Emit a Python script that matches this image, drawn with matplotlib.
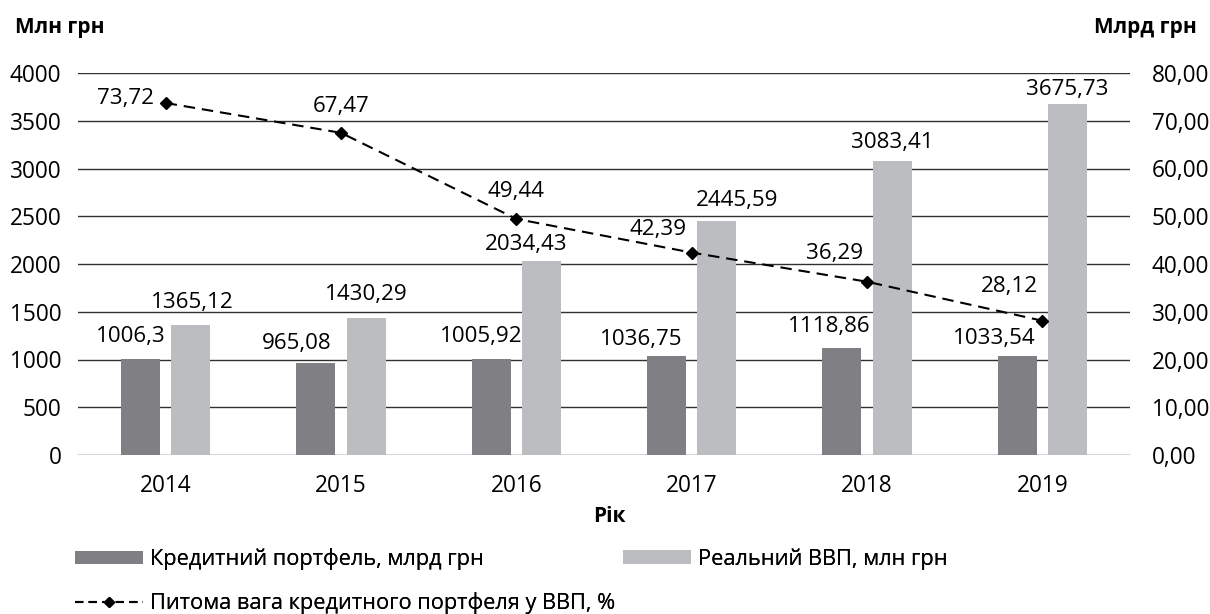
import numpy as np
import matplotlib as mpl
mpl.use('Agg')
import matplotlib.pyplot as plt
from matplotlib.lines import Line2D
from matplotlib.patches import Patch

years = ['2014', '2015', '2016', '2017', '2018', '2019']
credit = [1006.3, 965.08, 1005.92, 1036.75, 1118.86, 1033.54]
credit_lbl = ['1006,3', '965,08', '1005,92', '1036,75', '1118,86', '1033,54']
gdp = [1365.12, 1430.29, 2034.43, 2445.59, 3083.41, 3675.73]
gdp_lbl = ['1365,12', '1430,29', '2034,43', '2445,59', '3083,41', '3675,73']
share = [73.72, 67.47, 49.44, 42.39, 36.29, 28.12]
share_lbl = ['73,72', '67,47', '49,44', '42,39', '36,29', '28,12']

# label offsets in pixels: (dx from mark centre, baseline above mark top)
credit_off = [(-10, 17), (-19, 14), (-10, 17), (-25, 11), (-13, 16), (-23, 12)]
gdp_off = [(2, 17), (0, 18), (-15, 11), (20, 15), (0, 13), (0, 9)]
share_off = [(-40, -1), (0, 21), (0, 22), (-34, 18), (-32, 23), (-33, 29)]

DARK = '#808084'
LIGHT = '#bcbdc1'
W, H = 1210, 614

plt.rcParams['font.family'] = ['Open Sans', 'DejaVu Sans']

fig = plt.figure(figsize=(W / 100, H / 100), dpi=100)
renderer = fig.canvas.get_renderer()


def fit(text, px, weight='normal'):
    # font size (pt) that makes text about px wide
    t = fig.text(0, 0, text, fontsize=10, fontweight=weight)
    w = t.get_window_extent(renderer).width
    t.remove()
    return 10.0 * px / w


FS_TICK = fit('4000', 52)
FS_LBL = fit('2034,43', 82)
FS_LEG = fit('Реальний ВВП, млн грн', 249)
FS_BOLD = fit('Млн грн', 90, 'bold')

ax = fig.add_axes([78 / W, 1 - 455 / H, 1052 / W, 382 / H])
ax2 = ax.twinx()

x = np.arange(len(years))
w = 0.223
off = 0.143
ax.bar(x - off, credit, w, color=DARK, zorder=3)
ax.bar(x + off, gdp, w, color=LIGHT, zorder=3)

for i in range(len(years)):
    ax.annotate(credit_lbl[i], (x[i] - off, credit[i]), xytext=credit_off[i],
                textcoords='offset pixels', ha='center', va='baseline', fontsize=FS_LBL)
    ax.annotate(gdp_lbl[i], (x[i] + off, gdp[i]), xytext=gdp_off[i],
                textcoords='offset pixels', ha='center', va='baseline', fontsize=FS_LBL)

ax.set_xlim(-0.5, len(years) - 0.5)
ax.set_ylim(0, 4000)
ax.set_yticks(np.arange(0, 4001, 500))
ax.set_xticks(x)
ax.set_xticklabels(years)
ax.yaxis.grid(True, color='#303030', linewidth=1.0, zorder=0)
ax.set_axisbelow(True)
for s in ax.spines.values():
    s.set_visible(False)
for s in ax2.spines.values():
    s.set_visible(False)
ax.tick_params(axis='x', length=0, pad=13.5, labelsize=FS_TICK)
ax.tick_params(axis='y', length=0, pad=12, labelsize=FS_TICK)

ax2.plot(x, share, color='black', linewidth=1.5, dashes=(5.5, 3.3),
         marker='D', markersize=6, zorder=5)
ax2.set_ylim(0, 80)
ax2.set_yticks(np.arange(0, 81, 10))
ax2.set_yticklabels(['%d,00' % v for v in range(0, 81, 10)])
ax2.tick_params(length=0, pad=15.5, labelsize=FS_TICK)

for i in range(len(years)):
    ax2.annotate(share_lbl[i], (x[i], share[i]), xytext=share_off[i],
                 textcoords='offset pixels', ha='center', va='baseline', fontsize=FS_LBL)

fig.text(609 / W, 1 - 522 / H, 'Рік', fontweight='bold', fontsize=FS_BOLD,
         ha='center', va='baseline')
fig.text(15 / W, 1 - 33 / H, 'Млн грн', fontweight='bold', fontsize=FS_BOLD,
         ha='left', va='baseline')
fig.text(1197 / W, 1 - 33 / H, 'Млрд грн', fontweight='bold', fontsize=FS_BOLD,
         ha='right', va='baseline')

# legend, one entry per box so each sits where the reference has it
fs_px = FS_LEG * 100 / 72
entries = [
    (Patch(facecolor=DARK, edgecolor='none'), 'Кредитний портфель, млрд грн', 75, 559),
    (Patch(facecolor=LIGHT, edgecolor='none'), 'Реальний ВВП, млн грн', 623, 559),
    (Line2D([0], [0], color='black', linewidth=1.5, dashes=(4, 2.5), marker='D', markersize=5),
     'Питома вага кредитного портфеля у ВВП, %', 75, 603),
]
for handle, label, lx, ly in entries:
    leg = fig.legend([handle], [label], loc='center left',
                     bbox_to_anchor=(lx / W, 1 - ly / H), frameon=False,
                     fontsize=FS_LEG, borderpad=0, borderaxespad=0,
                     handlelength=68 / fs_px, handleheight=12 / fs_px,
                     handletextpad=7 / fs_px)
    fig.add_artist(leg)

fig.savefig('out.png', dpi=100)
